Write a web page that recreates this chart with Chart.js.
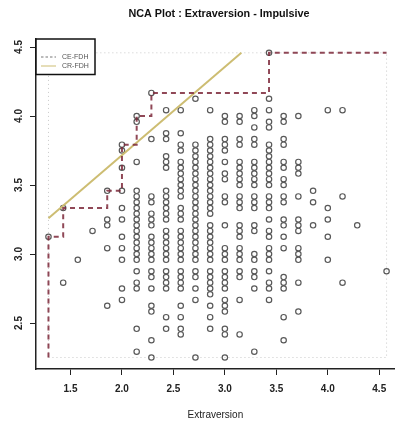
<!DOCTYPE html>
<html>
<head>
<meta charset="utf-8">
<script src="https://cdn.jsdelivr.net/npm/chart.js@4.4.1/dist/chart.umd.min.js"></script>
<style>
  html, body { margin: 0; padding: 0; background: #fff; }
  #wrap { width: 400px; height: 423px; }
</style>
</head>
<body>
<div id="wrap"><canvas id="ncaChart" width="400" height="423"></canvas></div>
<script>
// --- Data (Extraversion vs Impulsive) ---
// x positions of the point columns
const columnX = [1.286, 1.429, 1.571, 1.714, 1.857, 2.000, 2.143, 2.286, 2.429, 2.571, 2.714, 2.857,
                 3.000, 3.143, 3.286, 3.429, 3.571, 3.714, 3.857, 4.000, 4.143, 4.286, 4.571];
// y values of the points in each column (same order as columnX)
const columnY = [
  [3.125],
  [3.333, 2.792],
  [2.958],
  [3.167],
  [3.458, 3.250, 3.208, 3.042, 2.625],
  [3.792, 3.750, 3.625, 3.458, 3.333, 3.250, 3.125, 3.042, 2.958, 2.750, 2.667],
  [4.000, 3.958, 3.667, 3.458, 3.417, 3.375, 3.333, 3.292, 3.250, 3.208, 3.167, 3.125, 3.083, 3.042,
   3.000, 2.958, 2.875, 2.792, 2.750, 2.458, 2.292],
  [4.167, 3.833, 3.417, 3.375, 3.292, 3.250, 3.208, 3.125, 3.083, 3.042, 3.000, 2.958, 2.875, 2.833,
   2.750, 2.625, 2.583, 2.375, 2.250],
  [4.042, 3.875, 3.833, 3.708, 3.667, 3.625, 3.458, 3.417, 3.375, 3.333, 3.292, 3.250, 3.167, 3.125,
   3.083, 3.042, 3.000, 2.958, 2.875, 2.833, 2.792, 2.750, 2.542, 2.458],
  [4.042, 3.875, 3.792, 3.750, 3.667, 3.625, 3.583, 3.542, 3.500, 3.458, 3.417, 3.333, 3.292, 3.250,
   3.167, 3.125, 3.083, 3.042, 3.000, 2.958, 2.875, 2.833, 2.792, 2.750, 2.625, 2.542, 2.458, 2.417],
  [4.125, 3.792, 3.750, 3.708, 3.667, 3.625, 3.583, 3.542, 3.500, 3.458, 3.417, 3.375, 3.333, 3.292,
   3.250, 3.208, 3.167, 3.125, 3.083, 3.042, 3.000, 2.958, 2.875, 2.833, 2.750, 2.667, 2.250],
  [4.042, 3.833, 3.792, 3.750, 3.708, 3.667, 3.625, 3.583, 3.542, 3.500, 3.458, 3.417, 3.375, 3.333,
   3.292, 3.208, 3.167, 3.125, 3.083, 3.042, 3.000, 2.958, 2.875, 2.833, 2.792, 2.750, 2.708, 2.625,
   2.542, 2.458],
  [4.000, 3.958, 3.833, 3.792, 3.750, 3.667, 3.583, 3.542, 3.417, 3.375, 3.208, 3.042, 3.000, 2.958,
   2.875, 2.833, 2.792, 2.750, 2.667, 2.625, 2.583, 2.458, 2.417, 2.250],
  [4.000, 3.958, 3.833, 3.792, 3.667, 3.625, 3.583, 3.542, 3.500, 3.417, 3.375, 3.333, 3.208, 3.167,
   3.125, 3.042, 3.000, 2.958, 2.875, 2.833, 2.667, 2.417],
  [4.042, 4.000, 3.917, 3.833, 3.792, 3.667, 3.625, 3.583, 3.542, 3.500, 3.417, 3.375, 3.333, 3.208,
   3.167, 3.000, 2.958, 2.875, 2.833, 2.750, 2.292],
  [4.458, 4.125, 4.042, 3.958, 3.917, 3.792, 3.750, 3.708, 3.667, 3.625, 3.583, 3.542, 3.500, 3.417,
   3.375, 3.333, 3.250, 3.167, 3.125, 3.042, 3.000, 2.958, 2.875, 2.792, 2.750, 2.667],
  [4.000, 3.958, 3.833, 3.792, 3.667, 3.625, 3.542, 3.500, 3.417, 3.375, 3.250, 3.208, 3.125, 3.042,
   2.833, 2.792, 2.750, 2.542, 2.375],
  [4.000, 3.667, 3.625, 3.583, 3.417, 3.250, 3.208, 3.167, 3.042, 3.000, 2.958, 2.792, 2.583],
  [3.458, 3.375, 3.208],
  [4.042, 3.333, 3.250, 3.125, 2.958],
  [4.042, 3.417, 2.792],
  [3.208],
  [2.875]
];

// CE-FDH ceiling (step line)
const ceX = [1.286, 1.286, 1.429, 1.429, 1.857, 1.857, 2.000, 2.000, 2.143, 2.143, 2.286, 2.286, 3.429, 3.429, 4.571];
const ceY = [2.250, 3.125, 3.125, 3.333, 3.333, 3.458, 3.458, 3.792, 3.792, 4.000, 4.000, 4.167, 4.167, 4.458, 4.458];
// CR-FDH ceiling (straight line)
const crX = [1.286, 3.160];
const crY = [3.259, 4.458];
// scope of the data (dotted box)
const scopeX = [1.286, 4.571, 4.571, 1.286, 1.286];
const scopeY = [2.250, 2.250, 4.458, 4.458, 2.250];

const xTicks = [1.5, 2.0, 2.5, 3.0, 3.5, 4.0, 4.5];
const yTicks = [2.5, 3.0, 3.5, 4.0, 4.5];

const titleText = 'NCA Plot : Extraversion - Impulsive';
const legendLabels = ['CE-FDH', 'CR-FDH'];

// --- Helpers ---
const zip = (xs, ys) => xs.map((x, i) => ({ x: x, y: ys[i] }));
const points = [];
columnX.forEach((x, i) => columnY[i].forEach(y => points.push({ x: x, y: y })));

const CE_COLOR = 'rgba(125, 40, 58, 0.85)';
const CR_COLOR = '#cdbd72';
const FONT = '"Liberation Sans", Arial, sans-serif';

// judul, legenda, label sumbu y (diputar)
const decorPlugin = {
  id: 'decor',
  afterDraw(chart) {
    const ctx = chart.ctx;
    const ys = chart.scales.y;
    ctx.save();

    // title
    ctx.font = 'bold 10.8px ' + FONT;
    ctx.fillStyle = '#111';
    ctx.textAlign = 'center';
    ctx.textBaseline = 'middle';
    ctx.fillText(titleText, 219, 14);

    // y tick labels, rotated like R
    ctx.font = 'bold 10px ' + FONT;
    ctx.fillStyle = '#222';
    ys.ticks.forEach(t => {
      const py = ys.getPixelForValue(t.value);
      ctx.save();
      ctx.translate(19, py);
      ctx.rotate(-Math.PI / 2);
      ctx.fillText(t.value.toFixed(1), 0, 0);
      ctx.restore();
    });

    // legend box
    const lx = chart.chartArea.left, ly = chart.chartArea.top;
    ctx.fillStyle = '#fff';
    ctx.fillRect(lx, ly, 59, 35.5);
    ctx.strokeStyle = '#111';
    ctx.lineWidth = 1.5;
    ctx.strokeRect(lx, ly, 59, 35.5);

    const rows = [ly + 18, ly + 27];
    ctx.lineWidth = 1;
    ctx.strokeStyle = '#777';
    ctx.setLineDash([2.5, 2]);
    ctx.beginPath(); ctx.moveTo(lx + 5, rows[0]); ctx.lineTo(lx + 20, rows[0]); ctx.stroke();
    ctx.setLineDash([]);
    ctx.strokeStyle = CR_COLOR;
    ctx.beginPath(); ctx.moveTo(lx + 5, rows[1]); ctx.lineTo(lx + 20, rows[1]); ctx.stroke();

    ctx.font = '7px ' + FONT;
    ctx.fillStyle = '#555';
    ctx.textAlign = 'left';
    legendLabels.forEach((lbl, i) => ctx.fillText(lbl, lx + 26, rows[i]));

    ctx.restore();
  }
};

const axisCommon = {
  type: 'linear',
  grid: { drawOnChartArea: false, color: '#222', tickLength: 6, lineWidth: 1 },
  border: { display: true, color: '#222', width: 1.5 }
};

new Chart(document.getElementById('ncaChart'), {
  type: 'scatter',
  data: {
    datasets: [
      {
        label: legendLabels[0],
        data: zip(ceX, ceY),
        showLine: true,
        borderColor: CE_COLOR,
        borderWidth: 2,
        borderDash: [5, 4],
        pointRadius: 0,
        order: 0
      },
      {
        label: legendLabels[1],
        data: zip(crX, crY),
        showLine: true,
        borderColor: CR_COLOR,
        borderWidth: 2,
        pointRadius: 0,
        order: 1
      },
      {
        label: 'data',
        data: points,
        pointRadius: 2.7,
        pointBorderWidth: 1.2,
        pointBorderColor: '#595959',
        pointBackgroundColor: 'rgba(255,255,255,0)',
        order: 2
      },
      {
        label: 'scope',
        data: zip(scopeX, scopeY),
        showLine: true,
        borderColor: '#c9c9c9',
        borderWidth: 1,
        borderDash: [1, 3],
        pointRadius: 0,
        order: 3
      }
    ]
  },
  options: {
    responsive: false,
    animation: false,
    layout: { padding: { top: 39, left: 0, right: 0, bottom: 0 } },
    plugins: {
      legend: { display: false },
      tooltip: { enabled: false },
      title: { display: false }
    },
    scales: {
      x: Object.assign({}, axisCommon, {
        min: 1.1648,
        max: 4.651,
        afterBuildTicks: s => { s.ticks = xTicks.map(v => ({ value: v })); },
        afterFit: s => { s.height = 54; },
        ticks: {
          color: '#222',
          padding: 8,
          font: { family: FONT, size: 10, weight: 'bold' },
          callback: v => v.toFixed(1)
        },
        title: {
          display: true,
          text: 'Extraversion',
          color: '#222',
          font: { family: FONT, size: 10 },
          padding: { top: 0, bottom: 2 }
        }
      }),
      y: Object.assign({}, axisCommon, {
        min: 2.1667,
        max: 4.558,
        afterBuildTicks: s => { s.ticks = yTicks.map(v => ({ value: v })); },
        afterFit: s => { s.width = 36; },
        ticks: { display: false }
      })
    }
  },
  plugins: [decorPlugin]
});
</script>
</body>
</html>
